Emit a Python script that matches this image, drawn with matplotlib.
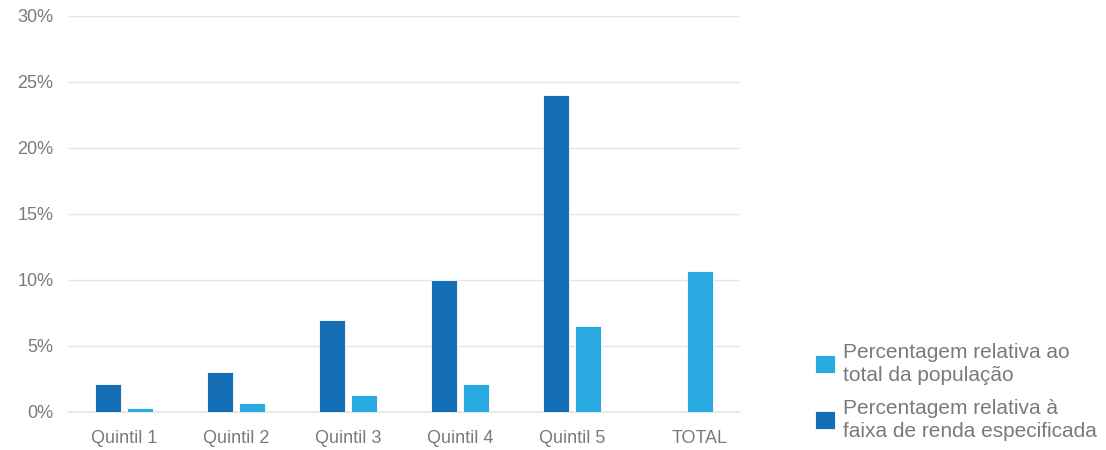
import matplotlib
matplotlib.use("Agg")
import matplotlib.pyplot as plt
import numpy as np

plt.rcParams['font.family'] = ['Liberation Sans', 'DejaVu Sans']

categories = ["Quintil 1", "Quintil 2", "Quintil 3", "Quintil 4", "Quintil 5", "TOTAL"]
faixa_renda = [2.1, 3.0, 7.0, 10.0, 24.0, None]
total_populacao = [0.3, 0.7, 1.3, 2.1, 6.5, 10.7]
yticks = [0, 5, 10, 15, 20, 25, 30]

dark = "#136eb6"
light = "#29abe2"
text_color = "#7a7a7a"
grid_color = "#e1e5ec"

fig = plt.figure(figsize=(11.06, 4.5), dpi=100)
ax = fig.add_axes([68 / 1106, 38 / 450, 672 / 1106, 396 / 450])

x = np.arange(len(categories))
w = 0.23
off = 0.143

dark_x = [xi - off for xi, v in zip(x, faixa_renda) if v is not None]
dark_v = [v for v in faixa_renda if v is not None]
b_dark = ax.bar(dark_x, dark_v, width=w, color=dark, edgecolor="white", linewidth=0.6, zorder=3,
                label="Percentagem relativa à\nfaixa de renda especificada")
b_light = ax.bar(x + off, total_populacao, width=w, color=light, edgecolor="white", linewidth=0.6, zorder=3,
                 label="Percentagem relativa ao\ntotal da população")

ax.set_xlim(-0.5, len(categories) - 0.5)
ax.set_ylim(0, 30)
ax.set_yticks(yticks)
ax.set_yticklabels([f"{t}%" for t in yticks])

# label sits over the bar when a category has only one series
tick_pos = [xi if v is not None else xi + off for xi, v in zip(x, faixa_renda)]
ax.set_xticks(tick_pos)
ax.set_xticklabels(categories)

ax.grid(axis="y", color=grid_color, linewidth=1.0, zorder=0)
for s in ["top", "right", "left"]:
    ax.spines[s].set_visible(False)
ax.spines["bottom"].set_color(grid_color)
ax.spines["bottom"].set_linewidth(1.2)
ax.tick_params(axis="both", length=0, colors=text_color, labelsize=13)
ax.tick_params(axis="y", pad=10.5)
ax.tick_params(axis="x", pad=13)

leg = fig.legend(handles=[b_light, b_dark],
                 loc="lower left", bbox_to_anchor=(806 / 1106, 0.0),
                 frameon=False, fontsize=15, labelcolor=text_color,
                 handlelength=0.95, handleheight=0.95, handletextpad=0.38,
                 labelspacing=0.68, borderaxespad=0.05)
for t in leg.get_texts():
    t.set_linespacing(1.25)

fig.savefig("out.png", dpi=100)
